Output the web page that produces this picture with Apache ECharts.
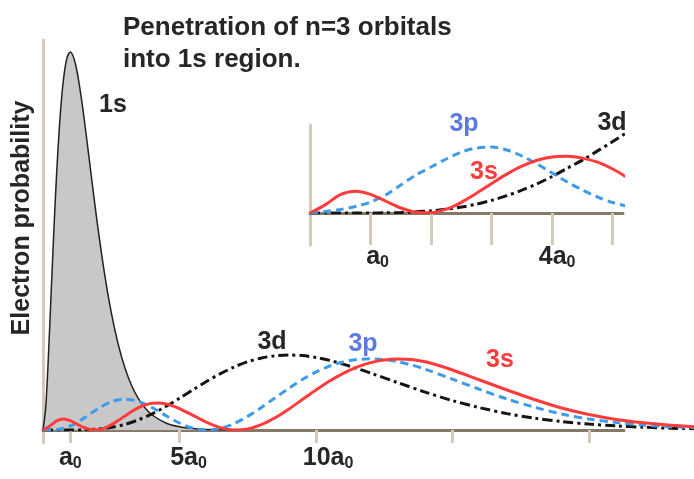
<!DOCTYPE html>
<html><head><meta charset="utf-8">
<script src="https://cdn.jsdelivr.net/npm/echarts@6/dist/echarts.min.js"></script>
<style>html,body{margin:0;padding:0;background:#fff}#c{width:694px;height:479px}</style>
</head><body><div id="c"></div>
<script>
const FONT = '"Liberation Sans", Arial, sans-serif';
const TXT = '#262626';
const RED = '#ff3b3b', BLUE = '#3d9be9', BLACK = '#151515', LBLUE = '#5b7be0';

// ---- main panel: radius (units of a0) and electron probability
const r1s = [0,0.1,0.2,0.3,0.4,0.5,0.6,0.7,0.8,0.9,1.0,1.2,1.4,1.6,1.8,2.0,2.25,2.5,2.75,3.0,3.25,3.5,3.75,4.0,4.5,5.0,5.5,6.0,6.5,7.0];
const p1s = [0,22.9,74.9,138,200.8,256.9,302.9,337.5,360.9,374,378,364.8,332.8,291.4,247.2,204.6,157.1,117.6,86.3,62.3,44.3,31.2,21.7,15,7,3.2,1.4,0.6,0.2,0];

const r3s = [0,0.25,0.5,0.75,1,1.25,1.5,1.75,2,2.25,2.5,2.75,3,3.25,3.5,3.75,4,4.25,4.5,4.75,5,5.5,6,6.5,7,7.5,8,8.5,9,9.5,10,10.5,11,11.5,12,12.5,13,13.5,14,14.5,15,16,17,18,19,20,21,22,23,24];
const p3s = [0,4.1,9.2,11,9.3,5.9,2.5,0.4,0.2,1.8,5.1,9.4,14,18.5,22.4,25.1,26.7,27,26.1,24.2,21.4,14.6,7.6,2.4,0.1,1.1,5.3,12.2,20.8,30.4,40,49,56.7,62.9,67.4,70.1,71,70.4,68.2,64.5,60,50,40,30.5,22,15.5,10.6,7.2,4.7,3.1];

const r3p = [0,0.5,1,1.5,2,2.5,3,3.5,4,4.5,5,5.5,6,6.5,7,7.5,8,8.5,9,9.5,10,10.5,11,11.5,12,12.5,13,13.5,14,15,16,17,18,19,20,21,22,23,24];
const p3p = [0,0.4,4,11.8,21.1,28.3,30.9,28.5,22.3,14.4,7,1.8,0,1.7,6.4,13.6,22.5,32.1,41.6,50.5,57.9,63.9,68,70.4,71.2,70.4,68.2,65,60.8,50.8,40.6,31,22.8,16,11,7.5,4.9,3.2,2.1];

const r3d = [0,1,1.5,2,2.5,3,3.5,4,4.5,5,5.5,6,6.5,7,7.5,8,8.5,9,9.5,10,10.5,11,11.5,12,13,14,15,16,17,18,19,20,21,22,23,24];
const p3d = [0,0,0.2,1,2.6,5.6,10.2,16.2,23.5,31.7,40.3,48.7,56.3,63,68.3,72,74.2,75,74.4,72.5,69.6,65.9,61.6,57,47.3,37.9,29.4,22.3,16.4,11.9,8.4,5.9,4.1,2.8,1.8,1.2];

// ---- inset: 0..5 a0
const rIn = [0,0.25,0.5,0.75,1,1.25,1.5,1.75,2,2.25,2.5,2.75,3,3.25,3.5,3.75,4,4.25,4.5,4.75,5,5.25];
const pIn3s = [0,8.1,18.3,21.8,18.6,11.8,5.0,0.8,0.3,3.8,10.7,19.7,29.5,38.9,46.9,52.8,56.1,56.8,54.9,50.8,44,35];
const pIn3p = [0,1.5,3.5,6.5,11,18,28,38,46,54,61,65,66,63,57,49,40,31,23,16,10.5,6.5];
const pIn3d = [0,0,0,0,0.07,0.2,0.54,1.2,2.2,3.7,5.9,8.9,12.6,17.3,22.8,29.2,36.5,44.8,52.9,62.1,71.4,81];

// ---- ticks / labels
const mainTicks = [1,5,10,15,20];
const mainLabels = [1,5,10];
const insetTicks = [1,2,3,4,5];
const insetLabels = [1,4];

const zip = (xs, ys) => xs.map((x, i) => [x, ys[i]]);

const mk = (extra) => Object.assign({fontFamily: FONT, fontWeight: 'bold', color: TXT}, extra);
const rich = {
  m0: mk({fontSize: 25, lineHeight: 26, verticalAlign: 'top'}),
  m5: mk({fontSize: 25, lineHeight: 26, verticalAlign: 'top', padding: [0,0,0,18]}),
  m10: mk({fontSize: 25, lineHeight: 26, verticalAlign: 'top', padding: [0,0,0,24]}),
  i1: mk({fontSize: 25, lineHeight: 26, verticalAlign: 'top', padding: [0,0,0,14]}),
  i4: mk({fontSize: 25, lineHeight: 26, verticalAlign: 'top', padding: [0,0,0,10]}),
  s: mk({fontSize: 16, lineHeight: 16, verticalAlign: 'bottom', padding: [16,0,0,0]})
};
const lab = (v, style) => '{' + style + '|' + (v === 1 ? 'a' : v + 'a') + '}{s|0}';

const LINE_DARK = '#857a68', TAN = '#d4cab6';
const hidden = (g, extra) => Object.assign({gridIndex: g, type: 'value', show: false}, extra || {});

const option = {
  animation: false,
  backgroundColor: '#fff',
  title: {
    text: 'Penetration of n=3 orbitals\ninto 1s region.',
    left: 118, top: 7,
    textStyle: {fontFamily: FONT, fontWeight: 'bold', fontSize: 26, lineHeight: 32, color: TXT}
  },
  grid: [
    {left: 43, right: 0, top: 30, height: 400},          // 0 main series
    {left: 43, width: 581, top: 30, height: 400},        // 1 main x axis
    {left: 43, width: 10, top: 40, height: 403},         // 2 main vertical line
    {left: 310, width: 313, top: 113, height: 100},      // 3 inset
    {left: 310, width: 10, top: 125, height: 120}        // 4 inset vertical line
  ],
  xAxis: [
    hidden(0, {min: 0, max: 23.85}),
    {gridIndex: 1, type: 'value', min: 0, max: 21.28,
      axisLine: {show: true, onZero: false, lineStyle: {color: LINE_DARK, width: 3}},
      axisTick: {show: true, customValues: mainTicks, length: 13, lineStyle: {color: TAN, width: 3}},
      axisLabel: {customValues: mainLabels, margin: 16, rich: rich,
        formatter: v => lab(v, v === 1 ? 'm0' : (v === 5 ? 'm5' : 'm10'))},
      splitLine: {show: false}},
    hidden(2, {min: 0, max: 1}),
    {gridIndex: 3, type: 'value', min: 0, max: 5.17,
      axisLine: {show: true, onZero: false, lineStyle: {color: LINE_DARK, width: 3}},
      axisTick: {show: true, customValues: insetTicks, length: 32, lineStyle: {color: TAN, width: 3}},
      axisLabel: {customValues: insetLabels, margin: 32, rich: rich,
        formatter: v => lab(v, v === 1 ? 'i1' : 'i4')},
      splitLine: {show: false}},
    hidden(4, {min: 0, max: 1})
  ],
  yAxis: [
    hidden(0, {min: 0, max: 400}),
    hidden(1, {min: 0, max: 400}),
    {gridIndex: 2, type: 'value', min: 0, max: 1,
      axisLine: {show: true, onZero: false, lineStyle: {color: TAN, width: 3}},
      axisTick: {show: false}, axisLabel: {show: false}, splitLine: {show: false}},
    hidden(3, {min: 0, max: 100}),
    {gridIndex: 4, type: 'value', min: 0, max: 1,
      axisLine: {show: true, onZero: false, lineStyle: {color: TAN, width: 3}},
      axisTick: {show: false}, axisLabel: {show: false}, splitLine: {show: false}}
  ],
  series: [
    {name: '1s', type: 'line', xAxisIndex: 0, yAxisIndex: 0, data: zip(r1s, p1s),
      smooth: 0.3, symbol: 'none', z: 2,
      lineStyle: {color: '#222', width: 1.5}, areaStyle: {color: '#c8c8c8', opacity: 1}},
    {name: '3d', type: 'line', xAxisIndex: 0, yAxisIndex: 0, data: zip(r3d, p3d),
      smooth: 0.3, symbol: 'none', z: 3,
      lineStyle: {color: BLACK, width: 3, type: [10, 4, 3, 4]}},
    {name: '3p', type: 'line', xAxisIndex: 0, yAxisIndex: 0, data: zip(r3p, p3p),
      smooth: 0.3, symbol: 'none', z: 4,
      lineStyle: {color: BLUE, width: 3, type: [8, 5]}},
    {name: '3s', type: 'line', xAxisIndex: 0, yAxisIndex: 0, data: zip(r3s, p3s),
      smooth: 0.3, symbol: 'none', z: 5,
      lineStyle: {color: RED, width: 3}},
    {name: 'in3d', type: 'line', xAxisIndex: 3, yAxisIndex: 3, data: zip(rIn, pIn3d),
      smooth: 0.3, symbol: 'none', z: 3,
      lineStyle: {color: BLACK, width: 3, type: [10, 4, 3, 4]}},
    {name: 'in3p', type: 'line', xAxisIndex: 3, yAxisIndex: 3, data: zip(rIn, pIn3p),
      smooth: 0.3, symbol: 'none', z: 4,
      lineStyle: {color: BLUE, width: 3, type: [8, 5]}},
    {name: 'in3s', type: 'line', xAxisIndex: 3, yAxisIndex: 3, data: zip(rIn, pIn3s),
      smooth: 0.3, symbol: 'none', z: 5,
      lineStyle: {color: RED, width: 3}}
  ],
  graphic: [
    {type: 'text', x: 22, y: 218, rotation: Math.PI / 2,
      style: {text: 'Electron probability', fill: TXT, font: 'bold 25px ' + FONT, align: 'center', verticalAlign: 'middle'}},
    {type: 'text', x: 113, y: 105, style: {text: '1s', fill: TXT, font: 'bold 25px ' + FONT, align: 'center', verticalAlign: 'middle'}},
    {type: 'text', x: 272, y: 342, style: {text: '3d', fill: TXT, font: 'bold 25px ' + FONT, align: 'center', verticalAlign: 'middle'}},
    {type: 'text', x: 363, y: 344, style: {text: '3p', fill: LBLUE, font: 'bold 25px ' + FONT, align: 'center', verticalAlign: 'middle'}},
    {type: 'text', x: 500, y: 360, style: {text: '3s', fill: RED, font: 'bold 25px ' + FONT, align: 'center', verticalAlign: 'middle'}},
    {type: 'text', x: 464, y: 124, style: {text: '3p', fill: LBLUE, font: 'bold 25px ' + FONT, align: 'center', verticalAlign: 'middle'}},
    {type: 'text', x: 484, y: 172, style: {text: '3s', fill: RED, font: 'bold 25px ' + FONT, align: 'center', verticalAlign: 'middle'}},
    {type: 'text', x: 612, y: 123, style: {text: '3d', fill: TXT, font: 'bold 25px ' + FONT, align: 'center', verticalAlign: 'middle'}}
  ]
};
const chart = echarts.init(document.getElementById('c'));
chart.setOption(option);
</script></body></html>
